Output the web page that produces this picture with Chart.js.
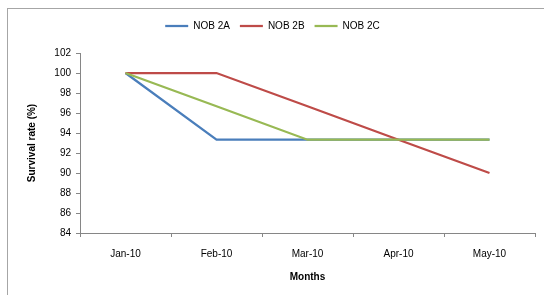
<!DOCTYPE html>
<html>
<head>
<meta charset="utf-8">
<script src="https://cdn.jsdelivr.net/npm/chart.js@4"></script>
<style>
  html, body { margin: 0; padding: 0; background: #fff; }
  #wrap { position: relative; width: 544px; height: 295px; }
  #frame {
    position: absolute; left: 7px; top: 8px; width: 560px; height: 300px;
    border: 1px solid #a6a6a6; box-sizing: border-box;
  }
  canvas { position: absolute; left: 0; top: 0; }
</style>
</head>
<body>
<div id="wrap">
  <div id="frame"></div>
  <canvas id="survivalChart" width="544" height="295"></canvas>
</div>
<script>
const monthLabels = ["Jan-10", "Feb-10", "Mar-10", "Apr-10", "May-10"];

const nob2a = [100, 93.33, 93.33, 93.33, 93.33];
const nob2b = [100, 100, 96.67, 93.33, 90];
const nob2c = [100, 96.67, 93.33, 93.33, 93.33];

const axisColor = "#868686";
const textFont = "'Liberation Sans', Arial, sans-serif";

// Later series sit on top, as in the spreadsheet.
const makeSeries = (label, data, color, order) => ({
  label,
  data,
  order,
  borderColor: color,
  backgroundColor: color,
  borderWidth: 2.25,
  pointRadius: 0,
  tension: 0,
});

// Leave a wider gap under the legend, like the original sheet.
const legendGap = {
  id: "legendGap",
  afterInit(chart) {
    const legend = chart.legend;
    if (!legend) {
      return;
    }
    const fit = legend.fit;
    legend.fit = function () {
      fit.call(this);
      this.height += 12;
    };
  },
};

new Chart(document.getElementById("survivalChart"), {
  type: "line",
  data: {
    labels: monthLabels,
    datasets: [
      makeSeries("NOB 2A", nob2a, "#4a7ebb", 2),
      makeSeries("NOB 2B", nob2b, "#be4b48", 1),
      makeSeries("NOB 2C", nob2c, "#98b954", 0),
    ],
  },
  options: {
    responsive: false,
    animation: false,
    layout: { padding: { left: 10, right: 9, top: 11, bottom: 8 } },
    plugins: {
      tooltip: { enabled: false },
      legend: {
        position: "top",
        labels: {
          usePointStyle: true,
          pointStyle: "line",
          pointStyleWidth: 23,
          padding: 10,
          color: "#000",
          font: { family: textFont, size: 10 },
          sort: (a, b) => a.datasetIndex - b.datasetIndex,
        },
      },
    },
    scales: {
      x: {
        offset: true,
        afterFit: (scale) => { scale.height = 54; },
        border: { color: axisColor, width: 1 },
        grid: { offset: true, drawOnChartArea: false, drawTicks: true, tickLength: 4, color: axisColor },
        ticks: { color: "#000", padding: 11, font: { family: textFont, size: 10 } },
        title: {
          display: true,
          text: "Months",
          color: "#000",
          padding: { top: 12 },
          font: { family: textFont, size: 10, weight: "bold" },
        },
      },
      y: {
        min: 84,
        max: 102,
        afterFit: (scale) => { scale.width = 70; },
        border: { color: axisColor, width: 1 },
        grid: { drawOnChartArea: false, drawTicks: true, tickLength: 4, color: axisColor },
        ticks: { stepSize: 2, color: "#000", padding: 5, font: { family: textFont, size: 10 } },
        title: {
          display: true,
          text: "Survival rate (%)",
          color: "#000",
          padding: { top: 16, bottom: 0 },
          font: { family: textFont, size: 10, weight: "bold" },
        },
      },
    },
  },
  plugins: [legendGap],
});
</script>
</body>
</html>
